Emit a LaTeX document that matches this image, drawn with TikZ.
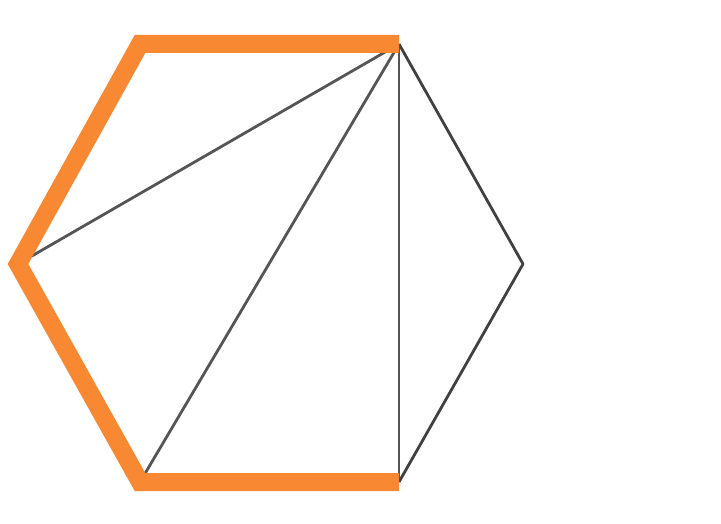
\documentclass[tikz,border=0pt]{standalone}
\definecolor{hexorange}{RGB}{248,136,50}
\definecolor{edgegray}{RGB}{64,64,64}
\definecolor{diaggray}{RGB}{85,85,85}
\tikzset{
  edge/.style={draw=edgegray, line width=2.8pt, line join=round},
  diag/.style={draw=diaggray, line width=2.8pt},
  pathline/.style={draw=hexorange, line width=18pt, line join=miter, line cap=butt}
}
\begin{document}
\begin{tikzpicture}[x=1pt,y=1pt]
\useasboundingbox (0,0) rectangle (721,523);
\coordinate (TL) at (140,479);
\coordinate (TR) at (399,479);
\coordinate (R) at (523,259);
\coordinate (BR) at (399,41);
\coordinate (BL) at (140,41);
\coordinate (L) at (18,259);
\draw[diag] (TR) -- (L);
\draw[diag] (TR) -- (BL);
\draw[diag] (TR) -- (BR);
\draw[edge] (TR) -- (R) -- (BR);
\draw[pathline] (TR) -- (TL) -- (L) -- (BL) -- (BR);
\end{tikzpicture}
\end{document}
